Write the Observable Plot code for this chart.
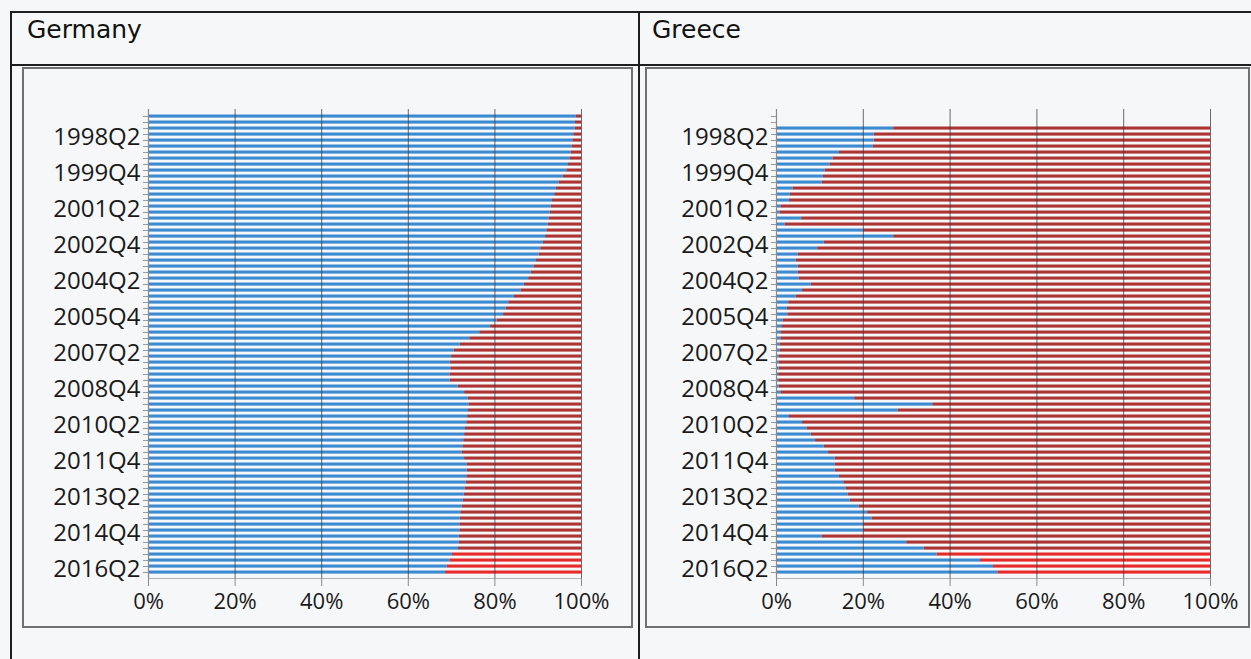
<!DOCTYPE html>
<html><head><meta charset="utf-8">
<script src="https://cdn.jsdelivr.net/npm/d3@7"></script>
<script src="https://cdn.jsdelivr.net/npm/@observablehq/plot@0.6"></script>
<style>
html,body{margin:0;padding:0;background:#f6f7f9;}
body{width:1251px;height:659px;position:relative;overflow:hidden;font-family:"Open Sans",sans-serif;}
.line{position:absolute;background:#1e1e1e;}
.box{position:absolute;border:2px solid #707070;box-sizing:border-box;}
.title{position:absolute;font-family:"DejaVu Sans",sans-serif;font-size:25px;line-height:1.2;color:#111;}
.chart{position:absolute;}
</style></head><body>
<div class="line" style="left:10px;top:11px;width:1241px;height:1.5px"></div>
<div class="line" style="left:10px;top:64px;width:1241px;height:1.5px"></div>
<div class="line" style="left:10px;top:11px;width:1.5px;height:648px"></div>
<div class="line" style="left:638px;top:11px;width:1.5px;height:648px"></div>
<div class="title" style="left:27px;top:15px">Germany</div>
<div class="title" style="left:652px;top:15px">Greece</div>
<div class="box" style="left:22px;top:67px;width:611px;height:561px"></div>
<div class="box" style="left:645px;top:67px;width:605px;height:561px"></div>
<div class="chart" id="de" style="left:22px;top:68px"></div>
<div class="chart" id="gr" style="left:645px;top:68px"></div>
<script>
// Categories: quarters 1997Q2 .. 2016Q2 (top to bottom)
const quarters = [
 "1997Q2","1997Q3","1997Q4",
 "1998Q1","1998Q2","1998Q3","1998Q4","1999Q1","1999Q2","1999Q3","1999Q4",
 "2000Q1","2000Q2","2000Q3","2000Q4","2001Q1","2001Q2","2001Q3","2001Q4",
 "2002Q1","2002Q2","2002Q3","2002Q4","2003Q1","2003Q2","2003Q3","2003Q4",
 "2004Q1","2004Q2","2004Q3","2004Q4","2005Q1","2005Q2","2005Q3","2005Q4",
 "2006Q1","2006Q2","2006Q3","2006Q4","2007Q1","2007Q2","2007Q3","2007Q4",
 "2008Q1","2008Q2","2008Q3","2008Q4","2009Q1","2009Q2","2009Q3","2009Q4",
 "2010Q1","2010Q2","2010Q3","2010Q4","2011Q1","2011Q2","2011Q3","2011Q4",
 "2012Q1","2012Q2","2012Q3","2012Q4","2013Q1","2013Q2","2013Q3","2013Q4",
 "2014Q1","2014Q2","2014Q3","2014Q4","2015Q1","2015Q2","2015Q3","2015Q4",
 "2016Q1","2016Q2"
];
const tickLabels = ["1998Q2","1999Q4","2001Q2","2002Q4","2004Q2","2005Q4","2007Q2",
 "2008Q4","2010Q2","2011Q4","2013Q2","2014Q4","2016Q2"];
const xTicks = [0, 0.2, 0.4, 0.6, 0.8, 1];

// Blue share (%) per quarter; red share is the remainder
const germanyBlue = [
 98.8,98.6,98.5,98.2,98.0,97.8,97.6,97.3,97.0,96.6,
 95.8,94.8,94.2,93.8,93.3,93.0,92.8,92.5,92.3,92.0,
 91.7,91.2,90.6,90.2,89.6,89.0,88.4,87.8,86.8,86.0,
 84.5,83.2,82.6,82.0,80.5,79.0,76.5,74.2,72.0,70.6,
 70.0,69.7,69.8,69.6,69.7,71.5,73.0,73.8,74.0,73.9,
 73.7,73.5,73.2,73.0,72.8,72.6,72.4,73.0,73.6,73.6,
 73.5,73.4,73.1,72.9,72.7,72.4,72.1,72.0,71.9,71.9,
 71.8,71.8,71.6,70.2,69.6,69.0,68.6
];
const greeceBlue = [
 null,null,
 27,22.5,22.5,22.3,14.5,13,12.3,11.2,10.8,10.5,
 3.8,3.2,3.0,1.0,0.8,5.8,2.0,20,27,11,
 9.5,5.0,4.5,5.0,5.0,5.2,8.0,6.0,4.5,2.8,
 2.5,2.6,1.5,1.2,1.0,1.0,0.8,0.8,0.6,0.6,
 0.6,0.5,0.5,0.6,1.0,18,36,28,3,6,
 7,8,9,11,12,13.5,13.5,13.5,14.5,15.5,
 16,16.5,17,19,21,22,20,20,10.5,30,
 34,37,47,50,51
];
const recentFrom = "2015Q3";

function rowsFor(values) {
  const rows = [];
  quarters.forEach((q, i) => {
    const v = values[i];
    if (v == null) return;
    const recent = q >= recentFrom;
    rows.push({q, s: "a", v, fill: "#3a8bd2"});
    rows.push({q, s: "b", v: 100 - v, fill: recent ? "#e82a2a" : "#ad3432"});
  });
  return rows;
}

function panel(values, id, width, marginLeft, marginRight) {
  const rows = rowsFor(values);
  const chart = Plot.plot({
    width, height: 559,
    marginLeft, marginRight, marginTop: 41, marginBottom: 49,
    style: {background: "transparent", fontFamily: "'Open Sans', sans-serif", fontSize: "22px", color: "#1a1a1a", overflow: "visible"},
    x: {domain: [0, 1]},
    y: {domain: quarters, padding: 0},
    color: {type: "identity"},
    marks: [
      Plot.barX(rows, Plot.stackX({x: "v", y: "q", z: "s", offset: "normalize", fill: "fill", insetTop: 1.5, insetBottom: 1.4})),
      Plot.gridX(xTicks.slice(1), {stroke: "#3a3a3a", strokeOpacity: 0.75, strokeWidth: 1}),
      Plot.ruleX([0], {stroke: "#8a8a8a", strokeWidth: 1.2}),
      Plot.frame({anchor: "bottom", stroke: "#b0b0b0"}),
      Plot.axisY({ticks: quarters, tickSize: 5, stroke: "#9a9a9a", tickFormat: () => "", label: null}),
      Plot.axisY({ticks: tickLabels, tickSize: 0, tickPadding: 8, dy: -3, fontSize: 24, fill: "#1a1a1a", label: null}),
      Plot.axisX({ticks: xTicks, tickSize: 8, tickPadding: 7, stroke: "#8a8a8a", fill: "#1a1a1a", tickFormat: d3.format(".0%"), label: null})
    ]
  });
  document.getElementById(id).appendChild(chart);
}

panel(germanyBlue, "de", 610, 126, 51);
panel(greeceBlue, "gr", 602, 131, 37);
</script>
</body></html>
